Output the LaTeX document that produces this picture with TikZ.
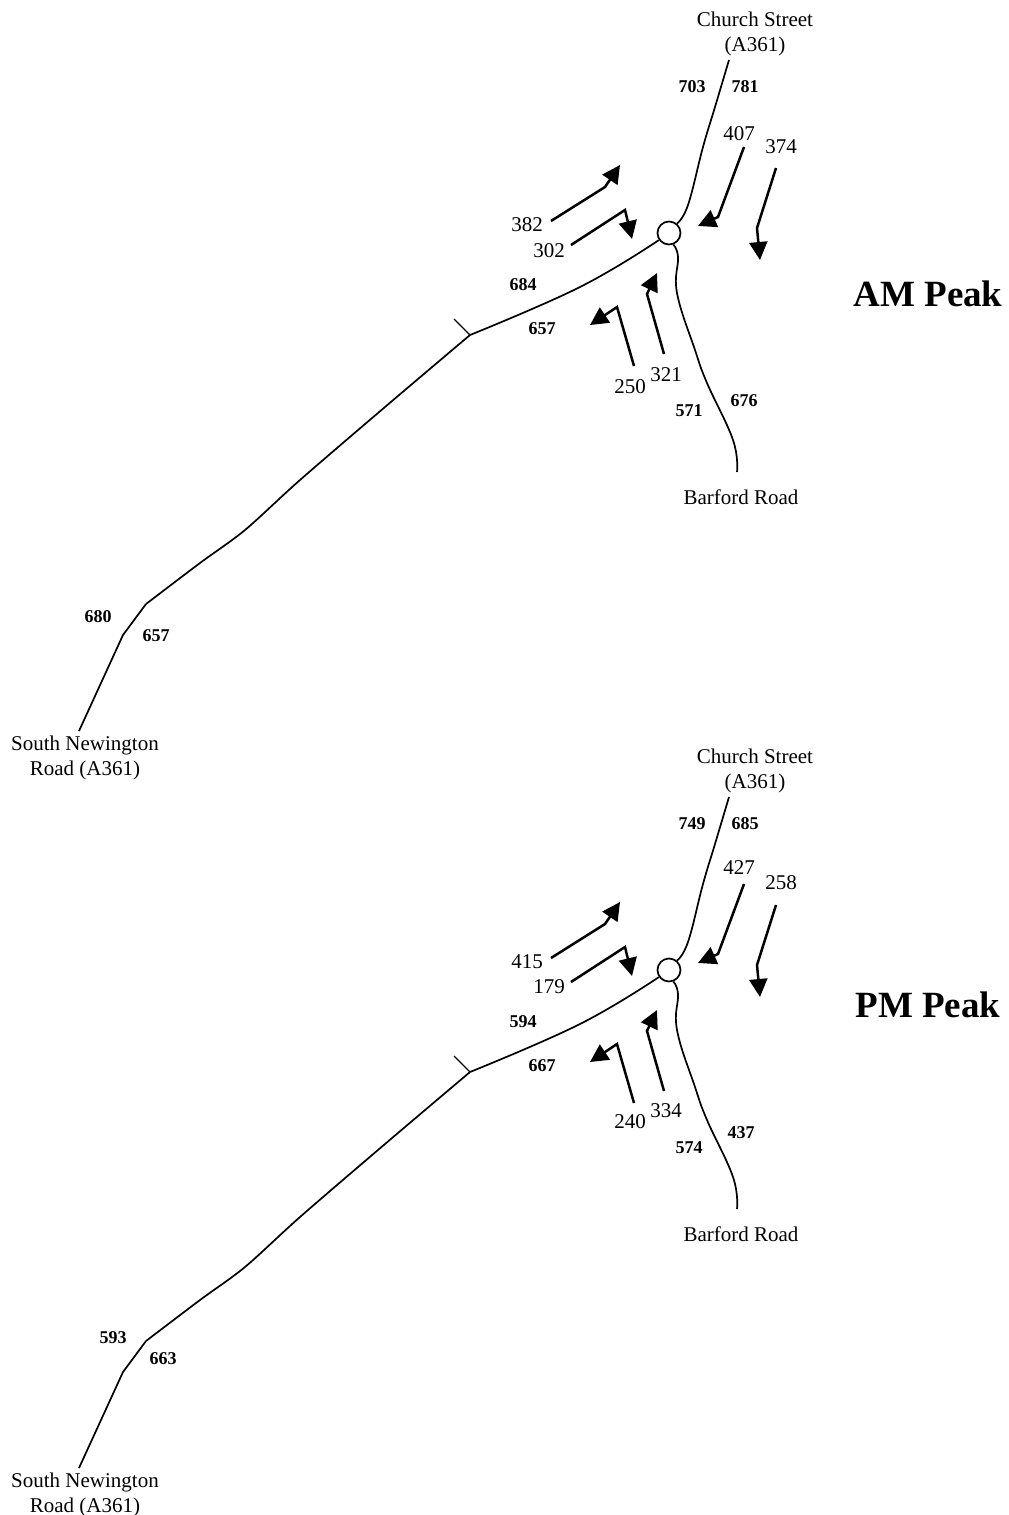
\documentclass[tikz,border=0pt]{standalone}
\usepackage{fontspec}
\setmainfont{Liberation Serif}
\usetikzlibrary{arrows.meta}

\begin{document}
\begin{tikzpicture}[
  x=1pt, y=-1pt,
  road/.style={line width=1.7pt, line cap=butt},
  flow/.style={line width=2.5pt, miter limit=4, -{Triangle[length=18pt, width=18pt]}},
  place/.style={align=center, inner sep=0pt, font=\fontsize{21}{25}\selectfont},
  count/.style={inner sep=0pt, font=\fontsize{21}{25}\selectfont},
  link/.style={inner sep=0pt, font=\fontsize{18}{22}\selectfont\bfseries},
  title/.style={inner sep=0pt, font=\fontsize{37}{44}\selectfont\bfseries}
]

\useasboundingbox (0,0) rectangle (1009,1515);

% Both peaks share the road layout, only the numbers and a few label spots move
\foreach \py/\peak/\peaky/\nA/\nB/\nC/\nD/\nE/\nF/\cA/\cB/\cC/\cD/\cE/\cF/\lA/\lB/\lC/\lD/\lE/\lF/\lFx/\lFy/\lG/\lGx/\lGy/\lH/\lHx/\lHy in {
  0/AM Peak/294/382/302/407/374/321/250/225/251/134/147/375/387/703/781/684/657/571/676/744/401/680/98/617/657/156/636,
  737/PM Peak/268/415/179/427/258/334/240/225/250/131/146/374/385/749/685/594/667/574/437/741/396/593/113/601/663/163/622} {
\begin{scope}[yshift=-\py pt]

% Junction
\node[circle, draw, line width=1.7pt, fill=white, minimum size=23pt, inner sep=0pt] (junction) at (669,233) {};

% Place names
\node[place] (church) at (755,33.5) {Church Street\\(A361)};
\node[place] (barford) at (741,497) {Barford Road};
\node[place] (newington) at (85,757.5) {South Newington\\Road (A361)};
\node[title] (peak) at (928,\peaky) {\peak};

% Road ends
\coordinate (churchEnd) at (729,60);
\coordinate (barfordEnd) at (737,472);
\coordinate (newingtonEnd) at (79,731);
\coordinate (tickEnd) at (454,319);
\coordinate (tickFoot) at (470,335);
\coordinate (bendFoot) at (146,604);

% Roads
\draw[road] plot[smooth, tension=0.7] coordinates {(churchEnd) (715,107) (703,147) (688,205) (junction.50)};
\draw[road] plot[smooth, tension=0.7] coordinates {(junction.215) (580,287) (tickFoot)};
\draw[road] plot[smooth, tension=0.7] coordinates {(junction.-70) (678,257) (677,293) (695,350) (707,383) (733,440) (barfordEnd)};
\draw[road] plot[smooth, tension=0.5] coordinates {(tickFoot) (385,407) (300,480) (245,530) (200,563) (bendFoot)};
\draw[road] (bendFoot) -- (123,635) -- (newingtonEnd);
\draw[road, line width=1.2pt] (tickFoot) -- (tickEnd);

% Turning flows
\draw[flow] (551,221) -- (605,187) -- (620,165);
\draw[flow] (571,245) -- (625,210) -- (632,239);
\draw[flow] (744,147) -- (718,217) -- (698,226);
\draw[flow] (776,168) -- (757,228) -- (760,260);
\draw[flow] (664,354) -- (647,294) -- (657,273);
\draw[flow] (634,366) -- (617,307) -- (590,325);

% Flow counts
\node[count] (countA) at (527,\cA) {\nA};
\node[count] (countB) at (549,\cB) {\nB};
\node[count] (countC) at (739,\cC) {\nC};
\node[count] (countD) at (781,\cD) {\nD};
\node[count] (countE) at (666,\cE) {\nE};
\node[count] (countF) at (630,\cF) {\nF};

% Link totals
\node[link] (linkA) at (692,87) {\lA};
\node[link] (linkB) at (745,87) {\lB};
\node[link] (linkC) at (523,285) {\lC};
\node[link] (linkD) at (542,329) {\lD};
\node[link] (linkE) at (689,411) {\lE};
\node[link] (linkF) at (\lFx,\lFy) {\lF};
\node[link] (linkG) at (\lGx,\lGy) {\lG};
\node[link] (linkH) at (\lHx,\lHy) {\lH};
\end{scope}
}

\end{tikzpicture}
\end{document}
